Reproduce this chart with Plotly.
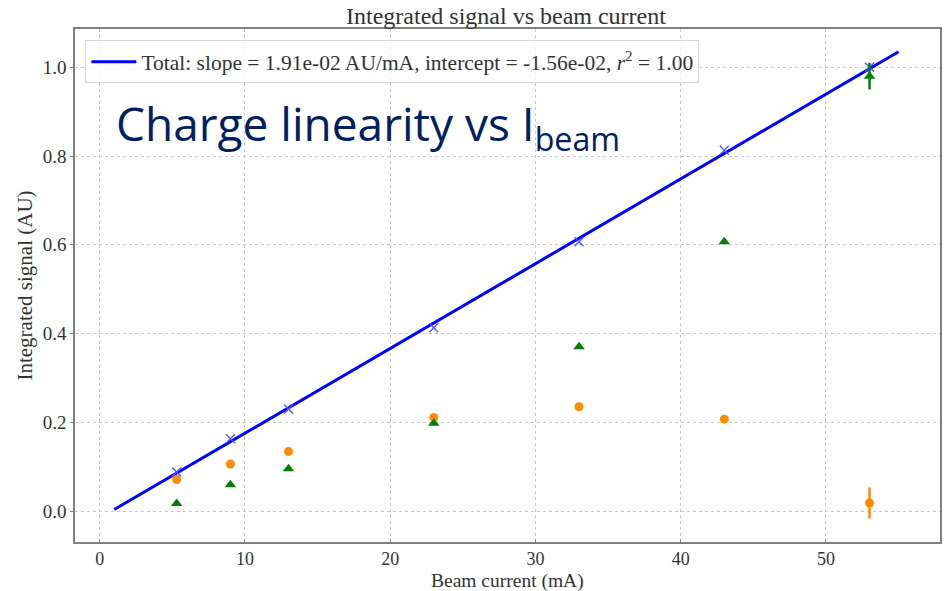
import plotly.graph_objects as go

beam_current = [5.3, 9.0, 13.0, 23.0, 33.0, 43.0, 53.0]
total_signal = [0.088, 0.163, 0.230, 0.413, 0.607, 0.813, 1.000]
orange_signal = [0.071, 0.106, 0.134, 0.211, 0.235, 0.207, 0.018]
orange_err = [0, 0, 0, 0, 0, 0, 0.035]
green_signal = [0.017, 0.059, 0.095, 0.198, 0.370, 0.607, 0.980]
green_err = [0, 0, 0, 0, 0, 0, 0.030]
fit_slope = 1.91e-02
fit_intercept = -1.56e-02
fit_x = [1.0, 55.0]
fit_y = [fit_slope * x + fit_intercept for x in fit_x]

serif = "Liberation Serif, DejaVu Serif, serif"

fig = go.Figure()
fig.add_trace(go.Scatter(
    x=fit_x, y=fit_y, mode="lines",
    line=dict(color="#0000ff", width=3),
    name="Total: slope = 1.91e-02 AU/mA, intercept = -1.56e-02, <i>r</i><sup>2</sup> = 1.00",
    showlegend=True))
fig.add_trace(go.Scatter(
    x=beam_current, y=total_signal, mode="markers",
    marker=dict(symbol="x-thin", size=9, line=dict(color="#5050ff", width=1.3)),
    showlegend=False))
fig.add_trace(go.Scatter(
    x=beam_current, y=orange_signal, mode="markers",
    marker=dict(symbol="circle", size=9, color="#ff8c00"),
    error_y=dict(type="data", array=orange_err, color="#ff8c00", thickness=2.5, width=0),
    showlegend=False))
fig.add_trace(go.Scatter(
    x=beam_current, y=green_signal, mode="markers",
    marker=dict(symbol="triangle-up", size=10, color="#008000"),
    error_y=dict(type="data", array=green_err, color="#008000", thickness=2.5, width=0),
    showlegend=False))

axis_common = dict(
    showline=True, linecolor="#808080", linewidth=1.5, mirror=True,
    showgrid=True, gridcolor="#c8c8c8", griddash="dot", gridwidth=1,
    zeroline=False, ticklen=3, tickcolor="#808080",
    automargin=False,
)

fig.update_layout(
    width=944, height=591,
    margin=dict(l=75, r=4, t=29, b=48.5),
    paper_bgcolor="white", plot_bgcolor="white",
    title=dict(text="Integrated signal vs beam current", x=0.536, xanchor="center",
               y=0.973, yanchor="middle",
               font=dict(family=serif, size=24, color="#333333")),
    xaxis=dict(range=[-1.7, 57.85], tickvals=[0, 10, 20, 30, 40, 50],
               ticks="inside",
               tickfont=dict(family=serif, size=18, color="#333333"),
               **axis_common),
    yaxis=dict(range=[-0.0698, 1.0863], tickvals=[0.0, 0.2, 0.4, 0.6, 0.8, 1.0],
               tickformat=".1f", ticks="outside",
               tickfont=dict(family=serif, size=19, color="#333333"),
               title=dict(text="Integrated signal (AU)", standoff=4,
                          font=dict(family=serif, size=21, color="#333333")),
               **axis_common),
    legend=dict(x=0.012, y=0.978, xanchor="left", yanchor="top",
                bgcolor="rgba(255,255,255,0.8)", bordercolor="#d8d8d8", borderwidth=1,
                itemwidth=45,
                font=dict(family=serif, size=21.5, color="#333333")),
)

fig.add_annotation(
    text="Beam current (mA)",
    xref="paper", yref="paper", x=0.5, y=-0.076, xanchor="center", yanchor="middle",
    showarrow=False,
    font=dict(family=serif, size=19.5, color="#333333"))

fig.add_annotation(
    text="Charge linearity vs I<sub>beam</sub>",
    xref="paper", yref="paper", x=0.045, y=0.81, xanchor="left", yanchor="middle",
    showarrow=False,
    font=dict(family="Open Sans, Noto Sans, sans-serif", size=46, color="#002060"))

fig.write_html("out.html")
